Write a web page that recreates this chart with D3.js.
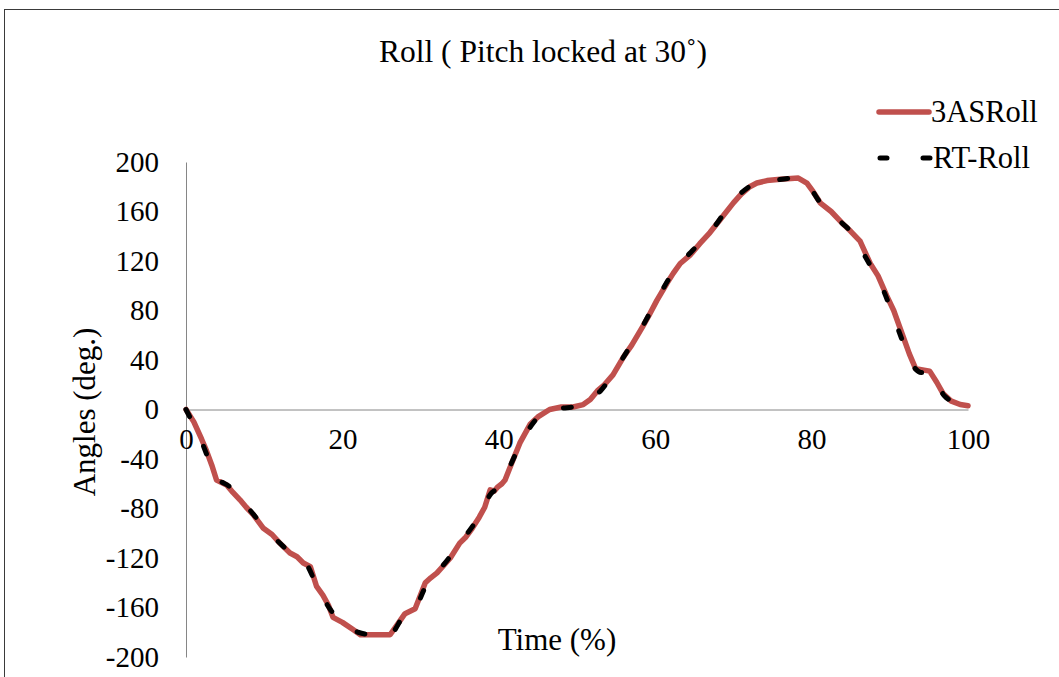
<!DOCTYPE html>
<html>
<head>
<meta charset="utf-8">
<script src="https://cdn.jsdelivr.net/npm/d3@7"></script>
<style>
  html, body { margin: 0; padding: 0; background: #fff; }
  svg text { font-family: "Liberation Serif", "Times New Roman", serif; fill: #000; }
</style>
</head>
<body>
<svg id="chart" width="1059" height="677"></svg>
<script>
// Time axis (% of cycle) and roll angle (deg.) for the measured 3AS series
const asTime = [0, 1, 2, 2.6, 3.3, 3.9, 5.2, 6.0, 6.9, 7.7, 8.6, 9.9, 11, 12, 13.3, 14.2, 15, 15.9,
  16.7, 17.5, 18.2, 18.8, 20, 21.4, 22.3, 24, 26.1, 27, 28, 29.3, 30.6, 31.3, 32.1, 33.8, 35, 35.8,
  36.6, 37.5, 38.2, 38.9, 39.4, 39.8, 40.4, 40.8, 41.8, 42.7, 44, 45, 46.5, 48, 49.5, 50.8, 51.7,
  52.6, 53.5, 54.6, 55.9, 57, 58.4, 59.2, 60.2, 61.5, 62.3, 63.2, 64.5, 65.7, 67, 68.5, 70, 71,
  72.1, 73, 74.3, 76, 78.3, 79.4, 80.2, 81.1, 82.5, 84, 85, 86.2, 87.5, 88.5, 89.6, 90.5, 91.7,
  92.5, 93.3, 94.2, 95.1, 96, 96.8, 97.8, 99, 100];
const asRoll = [0, -10, -24, -33, -45, -57, -61, -67, -73, -79, -85, -96, -101, -108, -116, -119, -124, -127,
  -143, -150, -158, -168, -172, -178, -182, -182, -182, -174, -165, -161, -140, -136, -132, -120, -108, -103,
  -96, -87, -79, -65, -66, -63, -60, -57, -41, -27, -12, -6, 0, 2, 2, 4, 8,
  15, 20, 28, 42, 52, 67, 76, 88, 102, 110, 118, 125, 134, 143, 155, 167, 174,
  180, 183, 185, 186, 187, 183, 176, 167, 160, 150, 144, 136, 118, 108, 92, 80, 59,
  45, 33, 32, 31, 22, 13, 7, 4, 3];

// Reference RT series
const rtTime = [0, 2, 3.9, 5.5, 8, 10, 12, 14, 15.5, 16.7, 18.5, 20, 22, 24, 26, 28, 29.5, 31, 33, 35,
  37, 39, 40.5, 41.5, 43, 44.5, 46.5, 48, 50.5, 51.5, 53, 55, 56.5, 58, 60, 62, 63.5, 65, 67, 69,
  71, 73, 75, 78, 79.5, 81, 84, 85, 87, 89, 91, 93, 94, 95, 97, 99, 100];
const rtRoll = [0, -26, -55, -62, -80, -95, -108, -119, -126, -142, -162, -172, -180, -182, -182, -165, -158, -138, -125, -108,
  -91, -68, -60, -45, -25, -10, 0, 1, 3, 8, 15, 33, 48, 63, 86, 108, 120, 130, 143, 160,
  175, 183, 185, 187, 182, 168, 150, 144, 122, 99, 66, 35, 30, 30, 11, 4, 3];

const xTicks = [0, 20, 40, 60, 80, 100];
const yTicks = [-200, -160, -120, -80, -40, 0, 40, 80, 120, 160, 200];

const chartTitle = "Roll ( Pitch locked at 30\u02DA)";
const xTitle = "Time (%)";
const yTitle = "Angles (deg.)";
const seriesNames = ["3ASRoll", "RT-Roll"];

const RED = "#C0504D";
const AXIS = "#868686";
const TICK_FONT = 29;

const svg = d3.select("#chart");

// outer chart frame
svg.append("rect")
  .attr("x", 4.5).attr("y", 9.5)
  .attr("width", 1100).attr("height", 700)
  .attr("fill", "none").attr("stroke", "#3a3a3a").attr("stroke-width", 1);

const x = d3.scaleLinear().domain([0, 100]).range([186, 968]);
const y = d3.scaleLinear().domain([-200, 200]).range([657, 162]);

// plain hyphen for negative labels
const fmt = d => String(d);

// y axis
const yAxis = svg.append("g")
  .attr("transform", `translate(${x(0)},0)`)
  .call(d3.axisLeft(y).tickValues(yTicks).tickSizeInner(0).tickSizeOuter(0).tickPadding(27)
    .tickFormat(fmt));
yAxis.select(".domain").attr("stroke", AXIS).attr("stroke-width", 1);
yAxis.selectAll("text").attr("font-size", TICK_FONT).attr("font-family", "Liberation Serif").attr("fill", "#000");

// x axis along zero
const xAxis = svg.append("g")
  .attr("transform", `translate(0,${y(0)})`)
  .call(d3.axisBottom(x).tickValues(xTicks).tickSizeInner(0).tickSizeOuter(0).tickPadding(19)
    .tickFormat(fmt));
xAxis.select(".domain").attr("stroke", AXIS).attr("stroke-width", 1);
xAxis.selectAll("text").attr("font-size", TICK_FONT).attr("font-family", "Liberation Serif").attr("fill", "#000");

// series
const asData = asTime.map((t, i) => [t, asRoll[i]]);
const rtData = rtTime.map((t, i) => [t, rtRoll[i]]);
const line = d3.line().x(d => x(d[0])).y(d => y(d[1]));

svg.append("path").datum(asData)
  .attr("d", line)
  .attr("fill", "none").attr("stroke", RED).attr("stroke-width", 5.5)
  .attr("stroke-linejoin", "round").attr("stroke-linecap", "round");

svg.append("path").datum(rtData)
  .attr("d", d3.line().x(d => x(d[0])).y(d => y(d[1])).curve(d3.curveMonotoneX))
  .attr("fill", "none").attr("stroke", "#000").attr("stroke-width", 5)
  .attr("stroke-dasharray", "8,33").attr("stroke-linecap", "round");

// titles
svg.append("text").attr("x", 543).attr("y", 62).attr("text-anchor", "middle")
  .attr("font-size", 31.5).text(chartTitle);
svg.append("text").attr("x", 557).attr("y", 650).attr("text-anchor", "middle")
  .attr("font-size", 31).text(xTitle);
svg.append("text").attr("transform", "translate(95,412) rotate(-90)").attr("text-anchor", "middle")
  .attr("font-size", 31).text(yTitle);

// legend
const lg = svg.append("g");
lg.append("line").attr("x1", 879).attr("x2", 929).attr("y1", 112).attr("y2", 112)
  .attr("stroke", RED).attr("stroke-width", 5.5).attr("stroke-linecap", "round");
lg.append("text").attr("x", 931).attr("y", 122).attr("font-size", 30.5).text(seriesNames[0]);
lg.append("line").attr("x1", 880).attr("x2", 930).attr("y1", 158).attr("y2", 158)
  .attr("stroke", "#000").attr("stroke-width", 5)
  .attr("stroke-dasharray", "7,36").attr("stroke-linecap", "round");
lg.append("text").attr("x", 933).attr("y", 168).attr("font-size", 30.5).text(seriesNames[1]);
</script>
</body>
</html>
